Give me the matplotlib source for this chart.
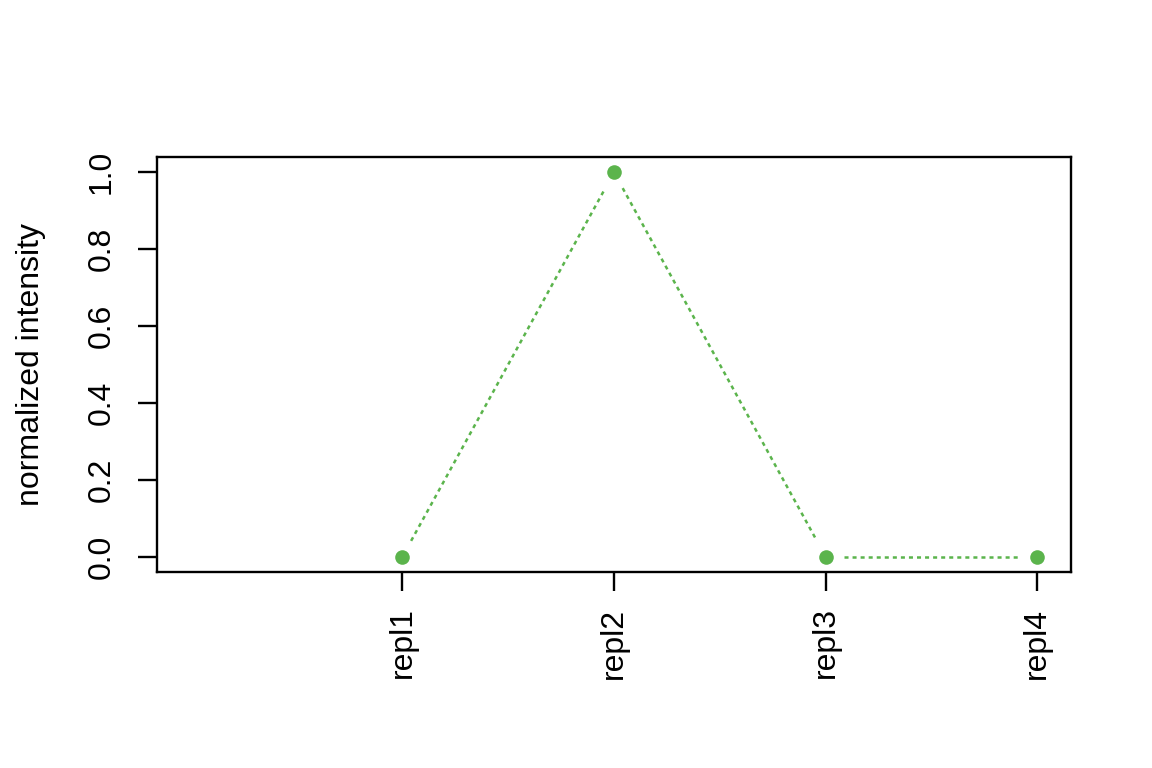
import numpy as np
import matplotlib
matplotlib.use("Agg")
import matplotlib.pyplot as plt

# data
samples = ["repl1", "repl2", "repl3", "repl4"]
intensity = [0.0, 1.0, 0.0, 0.0]
y_ticks = [0.0, 0.2, 0.4, 0.6, 0.8, 1.0]

green = "#5BB44C"

plt.rcParams["font.family"] = ["Liberation Sans", "DejaVu Sans"]
plt.rcParams["lines.scale_dashes"] = False

fig = plt.figure(figsize=(11.52, 7.68), dpi=100)
ax = fig.add_axes([157 / 1152, 1 - 572 / 768, (1071 - 157) / 1152, (572 - 157) / 768])

x = np.arange(1, len(samples) + 1)
ax.set_xlim(-0.16, 4.16)
ax.set_ylim(-0.04, 1.04)

# R type="b": dotted segments with a gap around each point
gap = 18  # px
pts = ax.transData.transform(np.column_stack([x, intensity]))
inv = ax.transData.inverted()
for i in range(len(pts) - 1):
    p0, p1 = pts[i], pts[i + 1]
    d = p1 - p0
    L = np.hypot(*d)
    if L <= 2 * gap:
        continue
    u = d / L
    a = inv.transform(p0 + u * gap)
    b = inv.transform(p1 - u * gap)
    ax.plot([a[0], b[0]], [a[1], b[1]], color=green, lw=1.8,
            dashes=(2.9, 2.9), dash_capstyle="butt")

ax.plot(x, intensity, "o", color=green, markersize=10.5, markeredgewidth=0)

ax.set_xticks(x)
ax.set_xticklabels(samples, rotation=90, fontsize=23)
ax.set_yticks(y_ticks)
ax.set_yticklabels([f"{v:.1f}" for v in y_ticks], rotation=90, va="center", fontsize=23)
ax.tick_params(axis="x", length=14, width=1.7, pad=11.5)
ax.tick_params(axis="y", length=14, width=1.7, pad=15)
ax.set_ylabel("normalized intensity", fontsize=23, labelpad=29)

for s in ax.spines.values():
    s.set_linewidth(1.7)

fig.savefig("out.png", dpi=100)
